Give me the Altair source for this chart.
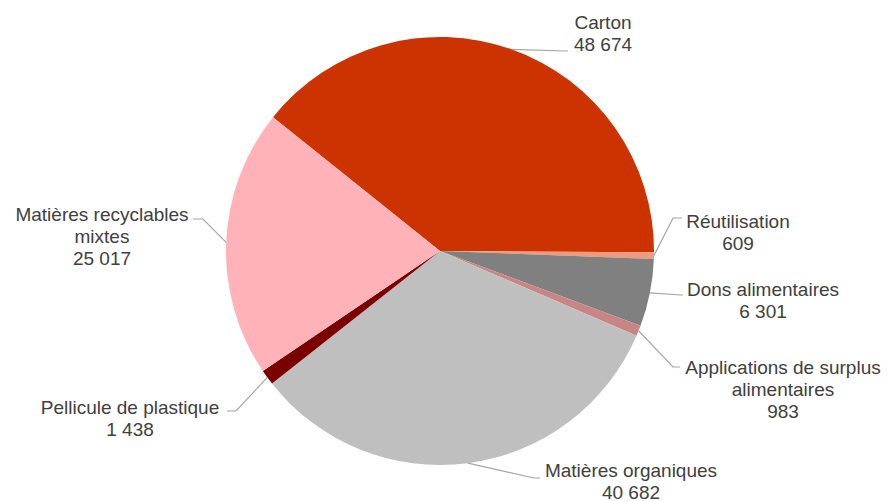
import math
import altair as alt
import pandas as pd

# ---- data ----
categories = ["Carton", "Réutilisation", "Dons alimentaires",
              "Applications de surplus alimentaires", "Matières organiques",
              "Pellicule de plastique", "Matières recyclables mixtes"]
values = [48674, 609, 6301, 983, 40682, 1438, 25017]
value_labels = ["48 674", "609", "6 301", "983", "40 682", "1 438", "25 017"]
label_lines = ["Carton", "Réutilisation", "Dons alimentaires",
               "Applications de surplus\nalimentaires", "Matières organiques",
               "Pellicule de plastique", "Matières recyclables\nmixtes"]
colors = ["#CC3300", "#EE9A80", "#808080", "#C88585", "#BFBFBF", "#7A0000", "#FFB3B8"]

# ---- layout (page pixels) ----
W, H = 873, 493
OFF = 8
CX, CY, R = 440 - OFF, 251 - OFF, 214
START = math.radians(-51.3)
# label first-line centres and leader elbows / ends (page coords)
label_pos = [(603, 23), (738, 222), (763, 290), (783, 368), (631, 471), (130, 408), (102, 215)]
leader_elbow = [(566, 51), (673, 218), (681, 295), (673, 367), (534, 478), (236, 411), (203, 219)]
leader_end = [(568, 51), (682, 218), (683, 295), (680, 367), (540, 478), (227, 411), (193, 219)]

total = sum(values)
df = pd.DataFrame({"cat": categories, "value": values, "idx": list(range(len(values)))})

# leader lines from slice mid-angle on the rim
rows = []
cum = 0
for i, v in enumerate(values):
    mid = START + 2 * math.pi * (cum + v / 2) / total
    cum += v
    sx = CX + R * math.sin(mid)
    sy = CY - R * math.cos(mid)
    pts = [(sx, sy), (leader_elbow[i][0] - OFF, leader_elbow[i][1] - OFF),
           (leader_end[i][0] - OFF, leader_end[i][1] - OFF)]
    for k, (x, y) in enumerate(pts):
        rows.append({"cat": categories[i], "k": k, "x": x, "y": y})
lines_df = pd.DataFrame(rows)

lab_df = pd.DataFrame({
    "cat": categories,
    "text": [f"{l}\n{v}" for l, v in zip(label_lines, value_labels)],
    "x": [p[0] - OFF for p in label_pos],
    "y": [p[1] - OFF for p in label_pos],
})

xs = alt.Scale(domain=[0, W], range=[0, W], nice=False, zero=False)
ys = alt.Scale(domain=[0, H], range=[0, H], nice=False, zero=False)

pie = alt.Chart(df).mark_arc(radius=R, stroke=None).encode(
    theta=alt.Theta("value:Q", stack=True,
                    scale=alt.Scale(range=[START, START + 2 * math.pi])),
    order=alt.Order("idx:Q"),
    color=alt.Color("cat:N", scale=alt.Scale(domain=categories, range=colors), legend=None),
    x=alt.value(CX),
    y=alt.value(CY),
)

leaders = alt.Chart(lines_df).mark_line(color="#A6A6A6", strokeWidth=1.2).encode(
    x=alt.X("x:Q", scale=xs, axis=None),
    y=alt.Y("y:Q", scale=ys, axis=None),
    detail="cat:N",
    order="k:Q",
)

labels = alt.Chart(lab_df).mark_text(
    font="Liberation Sans", fontSize=19, color="#404040",
    align="center", baseline="middle", lineBreak="\n", lineHeight=22,
).encode(
    x=alt.X("x:Q", scale=xs, axis=None),
    y=alt.Y("y:Q", scale=ys, axis=None),
    text="text:N",
)

chart = alt.layer(pie, leaders, labels).properties(
    width=W, height=H, padding=0, autosize="none", background="white"
).configure_view(stroke=None)

chart.save("out.html", embed_options={"renderer": "svg", "actions": False})
